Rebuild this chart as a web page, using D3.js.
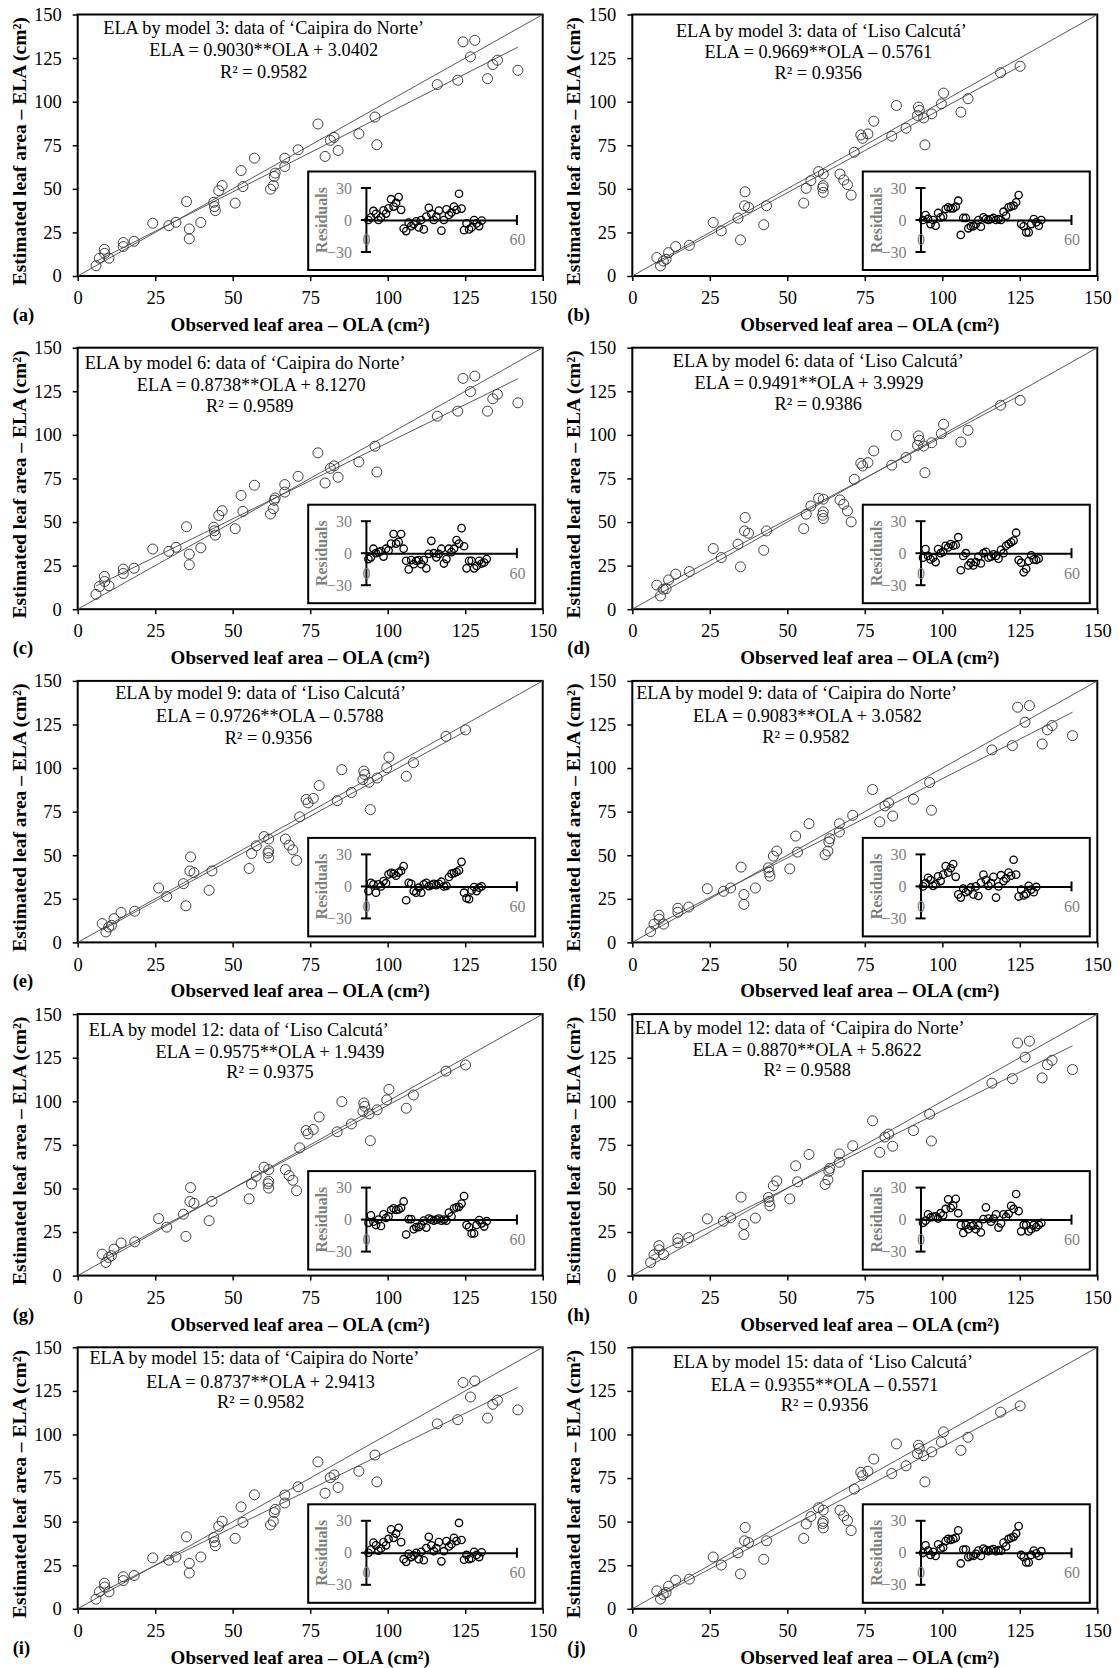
<!DOCTYPE html>
<html><head><meta charset="utf-8">
<script src="https://cdn.jsdelivr.net/npm/d3@7"></script>
<style>body{margin:0;background:#fff} svg{display:block}</style>
</head><body><svg id="c" width="1119" height="1668"></svg>
<script>
// ---------------- DATA ----------------
const axisTicks = [0, 25, 50, 75, 100, 125, 150];
const residualYTicks = [-30, 0, 30];
const residualXTicks = [0, 60];
const panelLabels = ["(a)","(b)","(c)","(d)","(e)","(f)","(g)","(h)","(i)","(j)"];
const panelTitles = [
  "ELA by model 3: data of \u2018Caipira do Norte\u2019",
  "ELA by model 3: data of \u2018Liso Calcut\u00e1\u2019",
  "ELA by model 6: data of \u2018Caipira do Norte\u2019",
  "ELA by model 6: data of \u2018Liso Calcut\u00e1\u2019",
  "ELA by model 9: data of \u2018Liso Calcut\u00e1\u2019",
  "ELA by model 9: data of \u2018Caipira do Norte\u2019",
  "ELA by model 12: data of \u2018Liso Calcut\u00e1\u2019",
  "ELA by model 12: data of \u2018Caipira do Norte\u2019",
  "ELA by model 15: data of \u2018Caipira do Norte\u2019",
  "ELA by model 15: data of \u2018Liso Calcut\u00e1\u2019"
];
const equationLabels = [
  "ELA = 0.9030**OLA + 3.0402", "ELA = 0.9669**OLA \u2013 0.5761",
  "ELA = 0.8738**OLA + 8.1270", "ELA = 0.9491**OLA + 3.9929",
  "ELA = 0.9726**OLA \u2013 0.5788", "ELA = 0.9083**OLA + 3.0582",
  "ELA = 0.9575**OLA + 1.9439", "ELA = 0.8870**OLA + 5.8622",
  "ELA = 0.8737**OLA + 2.9413", "ELA = 0.9355**OLA \u2013 0.5571"
];
const r2Labels = ["R\u00b2 = 0.9582","R\u00b2 = 0.9356","R\u00b2 = 0.9589","R\u00b2 = 0.9386","R\u00b2 = 0.9356",
                  "R\u00b2 = 0.9582","R\u00b2 = 0.9375","R\u00b2 = 0.9588","R\u00b2 = 0.9582","R\u00b2 = 0.9356"];
const slopes = [0.9030, 0.9669, 0.8738, 0.9491, 0.9726, 0.9083, 0.9575, 0.8870, 0.8737, 0.9355];
const intercepts = [3.0402, -0.5761, 8.1270, 3.9929, -0.5788, 3.0582, 1.9439, 5.8622, 2.9413, -0.5571];
const panelCultivar = ["caipira","liso","caipira","liso","liso","caipira","liso","caipira","caipira","liso"];

const olaCaipira = [5.9, 7.0, 8.6, 8.7, 10.1, 14.7, 14.7, 18.2, 24.2, 29.4, 31.7, 35.1, 36.0, 36.0, 39.7, 43.9, 44.1, 44.4, 45.5, 46.6, 50.8, 52.7, 53.3, 57.0, 62.2, 63.1, 63.4, 63.7, 66.8, 66.8, 71.1, 77.5, 79.8, 81.5, 82.7, 84.0, 90.7, 95.9, 96.5, 116.0, 122.6, 124.3, 126.7, 128.1, 132.2, 133.9, 135.4, 142.0];
const olaLiso = [7.9, 9.1, 10.0, 10.9, 11.7, 14.0, 18.4, 26.1, 28.7, 34.1, 34.9, 36.4, 36.2, 37.5, 42.4, 43.3, 55.3, 56.1, 57.6, 60.1, 61.6, 61.6, 61.6, 61.4, 67.0, 68.2, 69.4, 70.6, 71.6, 73.7, 74.3, 76.0, 77.9, 83.7, 85.2, 88.3, 92.0, 92.3, 92.6, 94.0, 94.4, 96.6, 99.7, 100.4, 106.0, 108.3, 118.8, 125.1];

const elaA = [5.9, 10.2, 15.3, 13.0, 10.2, 19.2, 16.9, 19.9, 30.3, 28.9, 30.8, 42.7, 27.0, 21.3, 30.7, 42.3, 39.8, 37.5, 49.0, 51.9, 41.8, 60.5, 51.3, 67.6, 49.8, 51.9, 57.1, 59.0, 67.6, 62.8, 72.4, 87.2, 68.6, 77.8, 79.5, 72.0, 81.6, 91.2, 75.3, 109.8, 112.3, 134.3, 125.7, 135.2, 113.2, 121.3, 123.8, 118.0];
const elaB = [10.6, 5.8, 8.6, 9.6, 13.4, 16.9, 17.6, 30.7, 25.9, 33.2, 20.7, 48.3, 40.3, 39.3, 29.4, 40.3, 41.8, 50.3, 54.7, 59.9, 58.5, 51.8, 48.0, 50.5, 58.5, 55.1, 52.4, 46.4, 71.0, 80.9, 79.0, 81.5, 88.8, 80.2, 97.8, 84.8, 92.1, 96.9, 95.0, 90.7, 75.2, 93.0, 98.8, 104.9, 94.0, 101.7, 116.6, 120.3];
const elaC = [8.5, 13.0, 18.8, 15.9, 13.4, 23.0, 20.5, 23.5, 34.5, 33.2, 35.5, 47.3, 31.6, 25.5, 35.2, 47.0, 45.0, 42.5, 53.8, 56.5, 46.2, 65.3, 56.1, 71.1, 54.6, 57.7, 62.5, 63.8, 71.5, 67.2, 76.2, 89.7, 72.4, 80.8, 82.2, 75.7, 84.5, 93.5, 78.7, 110.7, 113.6, 132.4, 124.8, 133.7, 113.6, 120.7, 123.3, 118.4];
const elaD = [13.8, 7.6, 11.5, 11.8, 16.8, 20.1, 21.6, 34.8, 29.6, 37.3, 24.3, 52.6, 44.9, 43.6, 33.8, 44.9, 46.2, 54.5, 59.2, 63.6, 63.1, 55.8, 52.0, 53.9, 62.7, 60.2, 56.4, 50.1, 74.5, 83.7, 82.2, 84.1, 90.8, 82.6, 99.8, 87.0, 94.0, 99.4, 96.9, 93.6, 78.3, 95.5, 100.7, 106.1, 95.9, 102.6, 117.0, 119.8];
const elaE = [10.8, 6.0, 8.8, 9.8, 13.6, 17.2, 17.9, 31.2, 26.3, 33.7, 21.0, 49.0, 41.0, 40.0, 29.9, 41.0, 42.4, 51.0, 55.4, 60.7, 59.3, 52.5, 48.6, 51.2, 59.3, 55.8, 53.1, 47.0, 72.0, 82.0, 80.0, 82.6, 90.0, 81.3, 99.1, 86.0, 93.4, 98.3, 96.3, 91.9, 76.2, 94.3, 100.2, 106.3, 95.3, 103.1, 118.2, 121.9];
const elaF = [6.2, 10.5, 15.6, 13.3, 10.5, 19.6, 17.3, 20.3, 30.8, 29.3, 31.2, 43.2, 27.5, 21.8, 31.2, 42.8, 40.3, 38.0, 49.5, 52.4, 42.2, 61.0, 51.8, 68.1, 50.3, 52.4, 57.6, 59.5, 68.1, 63.3, 72.9, 87.7, 69.1, 78.3, 80.0, 72.5, 82.1, 91.7, 75.8, 110.4, 112.9, 134.9, 126.3, 135.8, 113.8, 121.9, 124.4, 118.6];
const elaG = [12.3, 7.6, 10.4, 11.4, 15.2, 18.7, 19.4, 32.7, 27.8, 35.2, 22.5, 50.5, 42.5, 41.5, 31.5, 42.6, 44.0, 52.6, 57.0, 62.2, 60.8, 54.0, 50.2, 52.7, 60.8, 57.4, 54.7, 48.7, 73.3, 83.2, 81.3, 83.8, 91.0, 82.5, 99.8, 87.0, 94.2, 99.0, 97.1, 92.8, 77.4, 95.1, 100.8, 106.8, 96.0, 103.6, 117.3, 120.8];
const elaH = [7.5, 12.0, 17.2, 14.8, 12.0, 21.2, 18.8, 21.8, 32.5, 31.2, 33.2, 45.0, 29.4, 23.5, 33.0, 44.8, 42.5, 40.0, 51.5, 54.3, 44.0, 63.0, 53.8, 69.5, 52.3, 55.0, 59.8, 61.5, 69.8, 65.0, 74.5, 88.8, 70.7, 79.5, 81.2, 74.2, 83.2, 92.6, 77.2, 110.4, 113.0, 133.4, 125.3, 134.5, 113.4, 121.0, 123.5, 118.2];
const elaI = [5.5, 9.8, 14.7, 12.5, 9.7, 18.4, 16.2, 19.1, 29.2, 27.9, 29.7, 41.3, 26.1, 20.5, 29.7, 40.9, 38.4, 36.2, 47.3, 50.2, 40.4, 58.5, 49.6, 65.4, 48.1, 50.2, 55.2, 57.0, 65.3, 60.7, 70.0, 84.3, 66.3, 75.2, 76.8, 69.6, 78.9, 88.2, 72.8, 106.1, 108.5, 129.8, 121.5, 130.7, 109.4, 117.3, 119.7, 114.1];
const elaJ = [10.3, 5.6, 8.3, 9.3, 13.0, 16.4, 17.0, 29.7, 25.1, 32.1, 20.0, 46.7, 39.0, 38.0, 28.4, 39.0, 40.4, 48.7, 52.9, 58.0, 56.6, 50.1, 46.4, 48.9, 56.6, 53.3, 50.7, 44.9, 68.7, 78.3, 76.4, 78.9, 85.9, 77.6, 94.6, 82.0, 89.1, 93.8, 91.9, 87.8, 72.8, 90.0, 95.6, 101.5, 90.9, 98.4, 112.8, 116.4];

const resA = [0, 2.5, 8.5, 5.7, 0, 2.5, 9, 6, 11, 19.5, 12.6, 16, 21.5, 9.5, -8, -10.4, -2.5, -5.7, -3.8, -1.3, -7, 0, -8.8, 3.2, 11.4, 5.7, 0, 3.2, 8.8, -10, 0, 10, 4.7, 7, 12.6, 9.5, 24.6, 10.7, -9.5, -3.2, -8.8, -7, 0, -3.2, -5.7, -0.6];
const resB = [0, 4.7, 1, -3.8, 0, -5.3, 6.6, 2.5, 3.4, 10.3, 11.9, 10.9, 10.9, 12.5, 18.1, -14, 1.9, 1.9, -7.8, -5.9, -5.9, -3.8, 0, -6.3, 2.5, 0.9, 0, 0.9, 1.9, 0, 0.9, 0, 7.8, 4, 11.9, 12.8, 13.4, 16.6, 23.4, -3.8, -5.9, -11.6, -11.6, -3.8, 0.9, -2.2, -5.3, 0];
const resC = [-5.5, -3.9, 4.2, 0, 1, 1.9, -3.2, 4.2, 2.6, 9, 18, 9, 10.6, 18, 4.2, -7.1, -15.2, -6.5, -10.3, -7.1, -6.5, -10.3, -6.5, -14.2, -0.6, 11.6, 0, -3.9, -0.6, 4.2, -9.7, -5.5, 4.2, 1, 4.2, 12.3, 9, 23.5, 6.5, -14.2, -7.1, -7.1, -14.2, -11.9, -7.1, -9.7, -8.7, -5.5];
const resD = [-4.2, 3.8, -2.6, -5.8, -4.2, -8.3, 3.8, 0, 1.3, 7, 5.4, 8.6, 7, 7.7, 15, -16, -2.6, 0, -11.5, -8.9, -11.5, -8.3, -3.2, -9.6, 0, 1.3, -4.2, -3.2, -1, -2.6, -5.1, 3.2, 0, 7, 8.6, 10.2, 11.8, 19.2, -6.4, -8.9, -17.9, -14.7, -7.3, -1.9, -5.8, -6.4, -5.1];
const resE = [-4.4, 3.4, 1.9, -5.9, 1.9, 0, 5, 3, 11.3, 12.8, 11.9, 10, 13, 14.5, 19, -13, 3.4, 2.5, -4.4, -5.9, -1.2, -5.9, 1.9, 3.4, 0.3, 1.2, 2.5, 1.2, 2.5, 4.4, 0, 0.5, 8.8, 11.9, 12.5, 13.5, 15, 23, -5.9, -11, -12, -3.8, -0.6, -4.4, -1.2, 0];
const resF = [0, 3, 8, 6, 0.5, 2, 9.5, 5, 11, 19, 13, 17, 21, 9, -7.5, -10.5, -2, -5.5, -4, -1, -7.5, 0, -9, 3.5, 11, 6, 0.5, 3, 9, -10.5, 0, 10.5, 5, 7.5, 13, 10, 25, 11, -9.5, -3, -8.5, -7, 0.5, -3, -5.5, -0.5];
const resG = [-3, 4, -2, -5, 0, -6, 5, 1.5, 3, 9, 10.5, 9, 9.5, 11, 17, -14, 0.5, 0.5, -9, -7, -7, -5, -1, -7.5, 1, 0, -1, 0, 1, -1, 0, -1, 6.5, 3, 10.5, 11.5, 12, 15, 22, -5, -7, -13, -13, -5, -0.5, -3.5, -6.5, -1.5];
const resH = [-3, -1, 5, 2, 2.5, 3, 1, 6, 4, 10, 19, 11, 13, 19.5, 6, -5, -12.5, -5, -9, -6, -5.5, -9, -5.5, -12, 0.5, 11.5, 1, -2, 1, 5, -7.5, -3.5, 5, 2.5, 5.5, 13, 10, 24, 8, -11, -5, -5, -11, -9, -5, -7, -5, -3];
const resI = [0, 3, 9.5, 7, 2, 4, 10, 7, 13, 22, 14, 18, 23.5, 10, -6, -8.5, -1, -4, -2.5, 0, -6, 1, -7, 4.5, 15, 7, 1.5, 4.5, 10, -8, 1.5, 11, 6, 8, 14, 11, 28, 12, -6.5, -2, -6, -5, 1, -2, -4, 0.5];
const resJ = [0, 7, 2, -2, 1, -3, 8, 4, 5, 11, 13, 12, 13, 14, 21, -10, 3, 3, -4, -3, -3, -1, 2, -3, 4, 2.5, 1.5, 2.5, 3.5, 1.5, 2.5, 2, 9.5, 6, 13, 14, 15, 18, 25, -2, -4, -9, -9, -2, 2, -0.5, -3, 1.5];

const elaSeries = [elaA, elaB, elaC, elaD, elaE, elaF, elaG, elaH, elaI, elaJ];
const residualSeries = [resA, resB, resC, resD, resE, resF, resG, resH, resI, resJ];

// ---------------- LAYOUT ----------------
const FONT = "'Liberation Serif','Times New Roman',Times,serif";
const PW = 465, PH = 261.5;
const colX = [77.7, 632.3];
const rowY0 = 14.5, rowStep = 333.2;
const titleXUnits = [[60,60,60],[61,60,60],[54,56,55.5],[60,57,60],[59,62,61.5],[53,56.5,56],[52,62,62],[54,56.4,56.4],[57,59,59],[61.5,62,62]];
const titleYOff = [[19,41,63],[22,43,64],[21,43,64],[19,41,62],[18,41,63],[18,41,62],[22,44,64],[20,42,62],[17,41,61],[21,44,64]];

const svg = d3.select("#c");
svg.append("rect").attr("width",1119).attr("height",1668).attr("fill","#fff");

panelTitles.forEach((title, i) => {
  const col = i % 2, row = Math.floor(i / 2);
  const left = colX[col], top = rowY0 + rowStep * row;
  const ola = panelCultivar[i] === "caipira" ? olaCaipira : olaLiso;
  const ela = elaSeries[i];
  const res = residualSeries[i];

  const g = svg.append("g").attr("transform", `translate(${left},${top})`);
  const x = d3.scaleLinear().domain([0,150]).range([0,PW]);
  const y = d3.scaleLinear().domain([0,150]).range([PH,0]);

  const gx = g.append("g").attr("transform", `translate(0,${PH})`)
    .call(d3.axisBottom(x).tickValues(axisTicks).tickSize(5).tickPadding(10).tickSizeOuter(0));
  const gy = g.append("g")
    .call(d3.axisLeft(y).tickValues(axisTicks).tickSize(5).tickPadding(11).tickSizeOuter(0));
  [gx, gy].forEach(a => {
    a.select(".domain").remove();
    a.selectAll(".tick line").attr("stroke","#000").attr("stroke-width",1.5);
    a.selectAll(".tick text").attr("font-family",FONT).attr("font-size",18.5).attr("fill","#000");
  });

  g.append("rect").attr("width",PW).attr("height",PH).attr("fill","none")
    .attr("stroke","#000").attr("stroke-width",2);

  g.append("line").attr("x1",x(0)).attr("y1",y(0)).attr("x2",x(150)).attr("y2",y(150))
    .attr("stroke","#595959").attr("stroke-width",1);
  const xmin = d3.min(ola), xmax = d3.max(ola);
  g.append("line").attr("x1",x(xmin)).attr("y1",y(slopes[i]*xmin+intercepts[i]))
    .attr("x2",x(xmax)).attr("y2",y(slopes[i]*xmax+intercepts[i]))
    .attr("stroke","#595959").attr("stroke-width",1);

  g.append("g").selectAll("circle").data(ola.map((v,k)=>[v, ela[k]])).join("circle")
    .attr("cx",d=>x(d[0])).attr("cy",d=>y(d[1])).attr("r",5)
    .attr("fill","none").attr("stroke","#404040").attr("stroke-width",1);

  const lines = [title, equationLabels[i], r2Labels[i]];
  lines.forEach((t, k) => {
    g.append("text").attr("x", x(titleXUnits[i][k])).attr("y", titleYOff[i][k])
      .attr("text-anchor","middle").attr("font-family",FONT).attr("font-size",18.3)
      .attr("fill","#000").text(t);
  });

  g.append("text").attr("x", PW/2 + (col === 0 ? -10 : 5)).attr("y", PH + 55)
    .attr("text-anchor","middle").attr("font-family",FONT).attr("font-size",19)
    .attr("font-weight","bold").text("Observed leaf area \u2013 OLA (cm\u00b2)");
  g.append("text").attr("transform", `translate(${-58.5},${PH/2 + 6}) rotate(-90)`)
    .attr("text-anchor","middle").attr("dominant-baseline","central")
    .attr("font-family",FONT).attr("font-size",19.5).attr("font-weight","bold")
    .text("Estimated leaf area \u2013 ELA (cm\u00b2)");
  g.append("text").attr("x", -65).attr("y", PH + 45)
    .attr("font-family",FONT).attr("font-size",18.5).attr("font-weight","bold")
    .text(panelLabels[i]);

  // ---------- inset residual plot ----------
  const IW = 227, IH = 98.5;
  const ig = g.append("g").attr("transform", `translate(${230.5},${157})`);
  ig.append("rect").attr("width",IW).attr("height",IH).attr("fill","#fff")
    .attr("stroke","#000").attr("stroke-width",2);
  const rx = d3.scaleLinear().domain([0,60]).range([57.7, 57.7+151]);
  const ry = d3.scaleLinear().domain([-30,30]).range([48.5+32, 48.5-32]);

  const iy = ig.append("g").attr("transform", `translate(${rx(0)},0)`)
    .call(d3.axisLeft(ry).tickValues(residualYTicks).tickSize(0).tickPadding(14).tickSizeOuter(0));
  iy.select(".domain").attr("stroke","#000").attr("stroke-width",2);
  iy.selectAll(".tick text").attr("font-family",FONT).attr("font-size",16).attr("fill","#7f7f7f");
  ig.append("g").selectAll("line").data(residualYTicks).join("line")
    .attr("x1", rx(0)-5).attr("x2", rx(0)+5).attr("y1", d=>ry(d)).attr("y2", d=>ry(d))
    .attr("stroke","#000").attr("stroke-width",2);

  const ixa = ig.append("g").attr("transform", `translate(0,${ry(0)})`)
    .call(d3.axisBottom(rx).tickValues(residualXTicks).tickSize(0).tickPadding(14).tickSizeOuter(0));
  ixa.select(".domain").attr("stroke","#000").attr("stroke-width",2);
  ixa.selectAll(".tick text").attr("font-family",FONT).attr("font-size",16).attr("fill","#7f7f7f");
  ig.append("g").selectAll("line").data(residualXTicks.filter(d=>d>0)).join("line")
    .attr("x1", d=>rx(d)).attr("x2", d=>rx(d)).attr("y1", ry(0)-5).attr("y2", ry(0)+5)
    .attr("stroke","#000").attr("stroke-width",2);

  ig.append("text").attr("transform", `translate(13.5,${48.5}) rotate(-90)`)
    .attr("text-anchor","middle").attr("dominant-baseline","central")
    .attr("font-family",FONT).attr("font-size",16).attr("font-weight","bold")
    .attr("fill","#7f7f7f").text("Residuals");

  ig.append("g").selectAll("circle").data(res.map((v,k)=>[k+1, v])).join("circle")
    .attr("cx", d=>rx(d[0])).attr("cy", d=>ry(d[1])).attr("r",3.7)
    .attr("fill","none").attr("stroke","#000").attr("stroke-width",1.3);
});
</script>
</body></html>
